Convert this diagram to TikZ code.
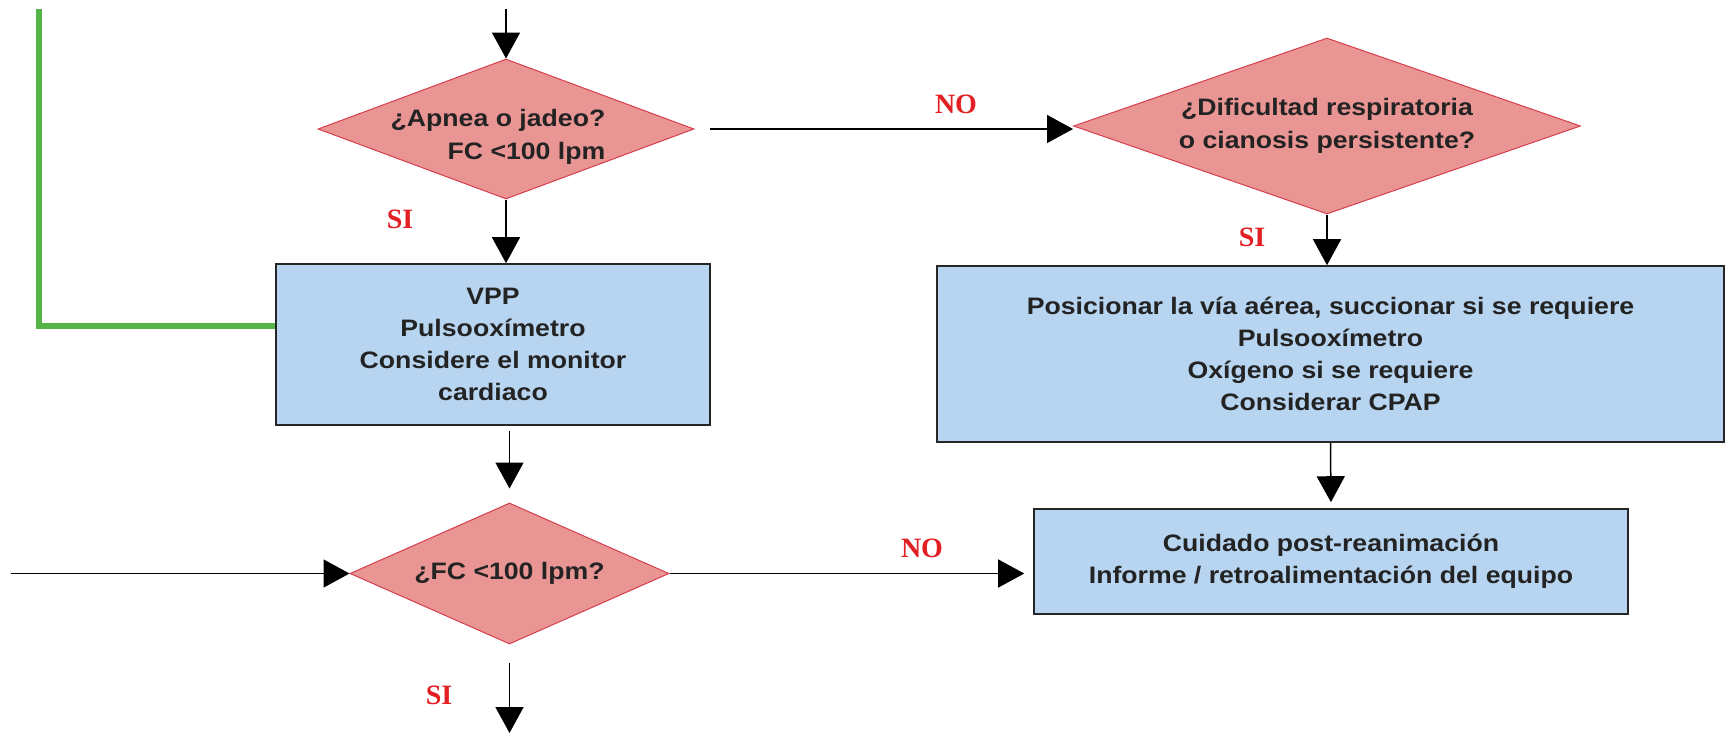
\documentclass[tikz,border=0pt]{standalone}
\usepackage{fontspec}
\setmainfont[FakeStretch=1.12]{Liberation Sans}
\newfontfamily\ramafont{Liberation Serif}
\usetikzlibrary{shapes.geometric,arrows.meta}
\definecolor{rosa}{RGB}{233,149,148}
\definecolor{rosaborde}{RGB}{214,62,78}
\definecolor{celeste}{RGB}{183,213,240}
\definecolor{verde}{RGB}{84,180,72}
\definecolor{rojo}{RGB}{226,32,36}
\definecolor{texto}{RGB}{35,35,35}
\begin{document}
\begin{tikzpicture}[x=0.5pt,y=-0.5pt,
    pregunta/.style={diamond,draw=rosaborde,line width=0.5pt,fill=rosa,inner sep=0pt,text=texto,
      font={\bfseries\fontsize{11.9}{16.5}\selectfont}},
    accion/.style={rectangle,draw=black!85,line width=0.8pt,fill=celeste,text=texto,align=center,
      font={\bfseries\fontsize{11.9}{16}\selectfont}},
    flecha/.style={line width=0.75pt,-{Triangle[length=13pt,width=14pt]}},
    rama/.style={text=rojo,font={\ramafont\bfseries\fontsize{14}{14}\selectfont}},
    retorno/.style={verde,line width=3pt}]
  \useasboundingbox (0,0) rectangle (1729,735);
  % the questions
  \node[pregunta,aspect=2.7,minimum width=188pt,minimum height=70pt] (apnea) at (506,129) {};
  \node[text=texto,inner sep=0pt,align=right,font={\bfseries\fontsize{11.9}{16.5}\selectfont}] (apneatxt) at (498,137)
    {¿Apnea o jadeo?\\FC <100 lpm};
  \node[pregunta,aspect=2.9,minimum width=253.5pt,minimum height=88pt,align=center] (dificultad) at (1327,126)
    {¿Dificultad respiratoria\\o cianosis persistente?};
  \node[pregunta,aspect=2.3,minimum width=159.5pt,minimum height=70.5pt] (fc) at (509.5,573.5)
    {¿FC <100 lpm?};
  % the actions
  \node[accion,minimum width=217pt,minimum height=80.5pt] (vpp) at (493,344.5)
    {VPP\\Pulsooxímetro\\Considere el monitor\\cardiaco};
  \node[accion,minimum width=393.5pt,minimum height=88pt] (via) at (1330.5,354)
    {Posicionar la vía aérea, succionar si se requiere\\Pulsooxímetro\\Oxígeno si se requiere\\Considerar CPAP};
  \node[accion,minimum width=297pt,minimum height=52.5pt] (cuidado) at (1331,561.5)
    {Cuidado post-reanimación\\Informe / retroalimentación del equipo};
  % loose ends
  \coordinate (entra) at (506,9);
  \coordinate (lado) at (11,573.5);
  \coordinate (sale) at (509.5,733);
  \coordinate (verdetop) at (39,9);
  % connectors
  \draw[flecha] (entra) -- (apnea.north);
  \draw[flecha,shorten <=7.5pt] (apnea.east) -- (apnea.east -| dificultad.west);
  \draw[flecha] (apnea.south) -- (apnea.south |- vpp.north);
  \draw[flecha] (dificultad.south) -- (dificultad.south |- via.north);
  \draw[flecha,shorten <=2.5pt,shorten >=7pt] (fc.north |- vpp.south) -- (fc.north);
  \draw[flecha,shorten >=3pt] (via.south) -- (cuidado.north);
  \draw[flecha,shorten >=4.5pt] (fc.east) -- (fc.east -| cuidado.west);
  \draw[flecha] (lado) -- (fc.west);
  \draw[flecha,shorten <=9pt] (fc.south) -- (sale);
  \draw[retorno] (verdetop) |- ([yshift=9.25pt]vpp.west);
  % yes / no
  \node[rama] (no1) at (956,104) {NO};
  \node[rama] (si1) at (400,219) {SI};
  \node[rama] (si2) at (1252,237) {SI};
  \node[rama] (no2) at (922,548) {NO};
  \node[rama] (si3) at (439,695) {SI};
\end{tikzpicture}
\end{document}
